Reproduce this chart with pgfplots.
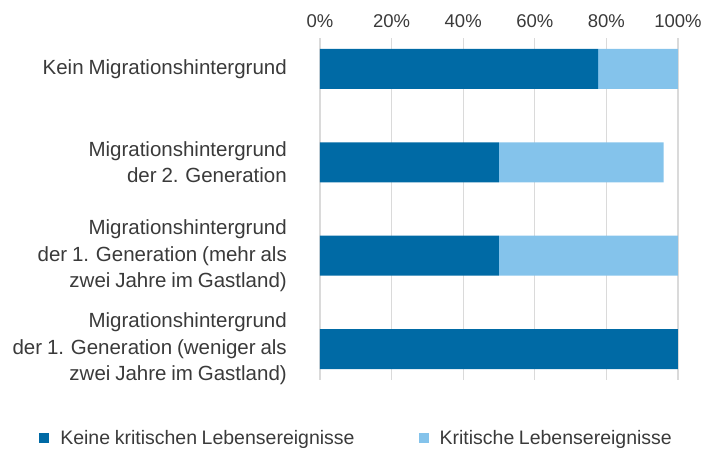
\documentclass[border=0pt]{standalone}
\usepackage{fontspec}
\setmainfont[WordSpace=0.85]{Liberation Sans}
\usepackage{pgfplots}
\pgfplotsset{compat=1.18}
\definecolor{dunkelblau}{HTML}{006AA5}
\definecolor{hellblau}{HTML}{84C3EB}
\definecolor{textgrau}{HTML}{3A3A3A}
\definecolor{gitter}{HTML}{DADADA}
\begin{document}
\begin{tikzpicture}
\begin{axis}[
  at={(0pt,0pt)}, anchor=south west,
  scale only axis,
  width=358pt, height=342pt,
  xbar stacked,
  bar width=40pt,
  xmin=0, xmax=100,
  ymin=-0.33, ymax=3.33,
  axis line style={draw=none},
  xtick={0,20,40,60,80,100},
  xticklabels={0\%,20\%,40\%,60\%,80\%,100\%},
  xticklabel pos=upper,
  xticklabel style={font=\fontsize{18.5}{22}\selectfont, text=textgrau, inner sep=0pt, yshift=10pt},
  ytick={0,1,2,3},
  yticklabels={
    {Migrationshintergrund\\der 1. Generation (weniger als\\zwei Jahre im Gastland)},
    {Migrationshintergrund\\der 1. Generation (mehr als\\zwei Jahre im Gastland)},
    {Migrationshintergrund\\der 2. Generation},
    {Kein Migrationshintergrund}},
  yticklabel style={font=\fontsize{20.5}{26.5}\selectfont, text=textgrau, align=right, inner sep=0pt, xshift=-33pt},
  major tick length=0pt,
  xmajorgrids,
  grid style={gitter, line width=1.2pt},
  legend columns=2,
  legend style={draw=none, fill=none, at={(-0.793,-0.17)}, anchor=west,
    font=\fontsize{19.5}{23}\selectfont, text=textgrau,
    /tikz/every even column/.append style={column sep=62pt}},
  legend image code/.code={\fill[#1] (0pt,-5pt) rectangle (10pt,5pt);},
  legend cell align=left,
]
\addplot[fill=dunkelblau, draw=none] coordinates {(100,0) (50,1) (50,2) (77.7,3)};
\addlegendentry{\hspace{9pt}Keine kritischen Lebensereignisse}
\addplot[fill=hellblau, draw=none] coordinates {(0,0) (50,1) (46,2) (22.3,3)};
\addlegendentry{\hspace{9pt}Kritische Lebensereignisse}
\end{axis}
\pgfresetboundingbox
\path[use as bounding box] (-320pt,-69pt) rectangle (390pt,380pt);
\end{tikzpicture}
\end{document}
